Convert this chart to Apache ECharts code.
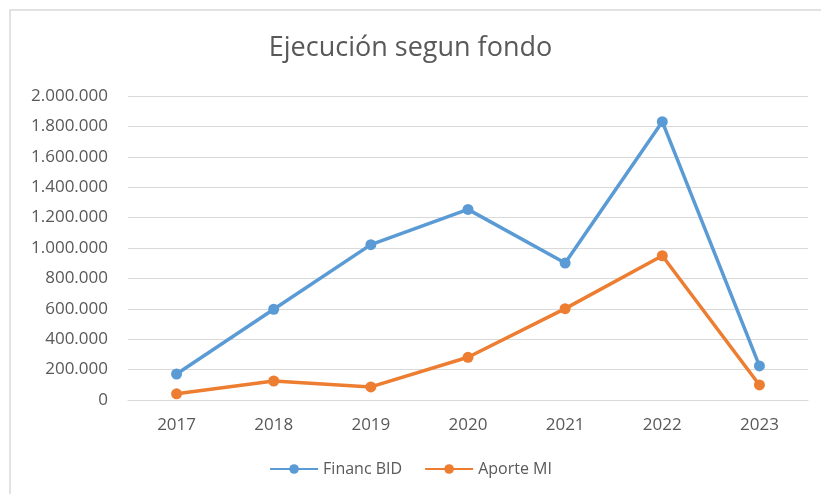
<!DOCTYPE html>
<html>
<head>
<meta charset="utf-8">
<style>
  html, body { margin: 0; padding: 0; background: #fff; }
  #main { width: 821px; height: 494px; }
</style>
<script src="https://cdn.jsdelivr.net/npm/echarts@6/dist/echarts.min.js"></script>
</head>
<body>
<div id="main"></div>
<script>
var years = ['2017', '2018', '2019', '2020', '2021', '2022', '2023'];
var financBID = [171000, 597000, 1022000, 1254000, 901000, 1831000, 224000];
var aporteMI = [41000, 125000, 86000, 281000, 601000, 949000, 99000];
var seriesNames = ['Financ BID', 'Aporte MI'];

var dom = document.getElementById('main');
var myChart = echarts.init(dom, null, { renderer: 'canvas' });

function fmt(v) {
    return String(v).replace(/\B(?=(\d{3})+(?!\d))/g, '.');
}

var option = {
    animation: false,
    backgroundColor: '#ffffff',
    color: ['#5B9BD5', '#ED7D31'],
    title: {
        text: 'Ejecución segun fondo',
        left: 'center',
        top: 30,
        textStyle: {
            fontFamily: 'Open Sans',
            fontWeight: 'normal',
            fontSize: 27,
            color: '#595959'
        }
    },
    graphic: [{
        type: 'rect',
        shape: { x: 10, y: 10, width: 900, height: 600 },
        style: { fill: 'none', stroke: '#d9d9d9', lineWidth: 1.5 },
        silent: true
    }],
    legend: {
        bottom: 12,
        left: 'center',
        itemWidth: 48,
        itemHeight: 12,
        itemGap: 22,
        textStyle: {
            fontFamily: 'Open Sans',
            fontSize: 16,
            color: '#595959'
        },
        data: seriesNames
    },
    grid: {
        left: 128,
        right: 13,
        top: 96,
        bottom: 94
    },
    xAxis: {
        type: 'category',
        data: years,
        boundaryGap: true,
        axisLine: { lineStyle: { color: '#d9d9d9', width: 1 } },
        axisTick: { show: false },
        axisLabel: {
            margin: 17,
            fontFamily: 'Open Sans',
            fontSize: 17,
            color: '#595959'
        }
    },
    yAxis: {
        type: 'value',
        min: 0,
        max: 2000000,
        interval: 200000,
        axisLine: { show: false },
        axisTick: { show: false },
        splitLine: { lineStyle: { color: '#d9d9d9', width: 1 } },
        axisLabel: {
            margin: 20,
            fontFamily: 'Open Sans',
            fontSize: 17,
            color: '#595959',
            formatter: fmt
        }
    },
    series: [
        {
            name: seriesNames[0],
            type: 'line',
            data: financBID,
            symbol: 'circle',
            symbolSize: 11,
            lineStyle: { width: 3.5 },
            itemStyle: { color: '#5B9BD5' }
        },
        {
            name: seriesNames[1],
            type: 'line',
            data: aporteMI,
            symbol: 'circle',
            symbolSize: 11,
            lineStyle: { width: 3.5 },
            itemStyle: { color: '#ED7D31' }
        }
    ]
};

myChart.setOption(option);
window.addEventListener('resize', myChart.resize);
</script>
</body>
</html>
